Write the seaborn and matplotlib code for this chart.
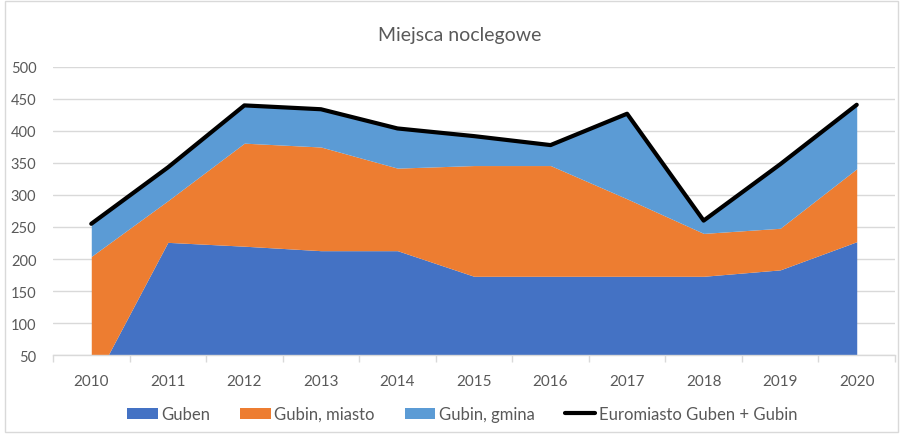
import matplotlib
matplotlib.use("Agg")
import matplotlib.pyplot as plt
import seaborn as sns
import pandas as pd
from matplotlib.patches import Patch
from matplotlib.lines import Line2D

years = ["2010", "2011", "2012", "2013", "2014", "2015", "2016", "2017", "2018", "2019", "2020"]
guben = [0, 226, 220, 213, 213, 173, 173, 173, 173, 183, 227]
gubin_miasto = [204, 65, 161, 162, 129, 173, 173, 121, 67, 65, 114]
gubin_gmina = [51, 52, 59, 59, 62, 46, 32, 133, 20, 100, 100]
euromiasto = [255, 343, 440, 434, 404, 392, 378, 427, 260, 348, 441]

series_names = ["Guben", "Gubin, miasto", "Gubin, gmina", "Euromiasto Guben + Gubin"]
colors = ["#4472C4", "#ED7D31", "#5B9BD5"]

sns.set_theme(style="white")
plt.rcParams["font.family"] = ["Lato", "DejaVu Sans"]

fig = plt.figure(figsize=(9.03, 4.35), dpi=100)
ax = fig.add_axes([53 / 903, 1 - 356 / 435, (895 - 53) / 903, (356 - 68) / 435])

x = list(range(len(years)))
ax.stackplot(x, guben, gubin_miasto, gubin_gmina, colors=colors, linewidth=0, zorder=2)

df = pd.DataFrame({"x": x, "total": euromiasto})
sns.lineplot(data=df, x="x", y="total", ax=ax, color="black", linewidth=3, zorder=3)

ax.set_xlim(-0.5, len(years) - 0.5)
ax.set_ylim(50, 500)
ax.set_yticks(range(50, 501, 50))
ax.set_xticks(x)
ax.set_xticklabels(years)
ax.set_xticks([i - 0.5 for i in range(len(years) + 1)], minor=True)
ax.set_xlabel("")
ax.set_ylabel("")

ax.grid(axis="y", color="#D9D9D9", linewidth=1, zorder=0)
ax.set_axisbelow(True)
for s in ["top", "right", "left"]:
    ax.spines[s].set_visible(False)
ax.spines["bottom"].set_color("#D9D9D9")
ax.spines["bottom"].set_linewidth(1)
ax.spines["bottom"].set_zorder(4)

ax.tick_params(axis="x", which="major", length=0, pad=14, labelsize=11, labelcolor="#595959")
ax.tick_params(axis="x", which="minor", length=5, color="#D9D9D9", width=1, bottom=True)
ax.tick_params(axis="y", length=0, pad=12, labelsize=10.5, labelcolor="#595959")

fig.text(460 / 903, 1 - 36 / 435, "Miejsca noclegowe", ha="center", va="center", fontsize=14, color="#595959")

handles = [Patch(facecolor=c, edgecolor="none") for c in colors] + [Line2D([0], [0], color="black", linewidth=3)]
fig.legend(handles, series_names, loc="center", bbox_to_anchor=(462 / 903, 1 - 415 / 435), ncol=4, frameon=False,
           fontsize=12, labelcolor="#595959", handlelength=1.85, handleheight=0.65, handletextpad=0.2,
           columnspacing=1.8)

border = plt.Rectangle((5 / 903, 2 / 435), 893 / 903, 431 / 435, transform=fig.transFigure, fill=False,
                       edgecolor="#D9D9D9", linewidth=1)
fig.patches.append(border)

fig.savefig("out.png", dpi=100)
